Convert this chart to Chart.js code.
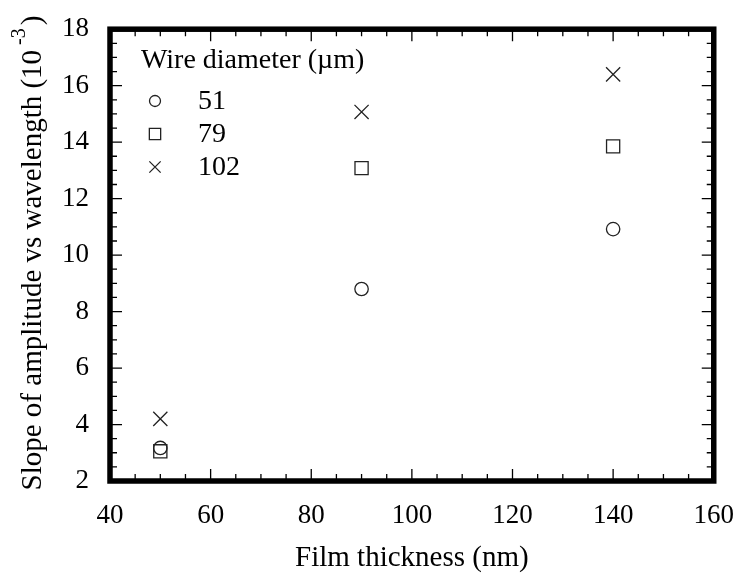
<!DOCTYPE html>
<html>
<head>
<meta charset="utf-8">
<script src="https://cdn.jsdelivr.net/npm/chart.js@4"></script>
<style>
  html, body { margin: 0; padding: 0; background: #fff; }
  #wrap { width: 745px; height: 576px; }
</style>
</head>
<body>
<div id="wrap"><canvas id="c" width="745" height="576"></canvas></div>
<script>
// Film thickness (nm) and slope values (10^-3) per wire diameter
const thickness = [50, 90, 140];
const slope51 = [3.17, 8.8, 10.92];
const slope79 = [3.05, 13.08, 13.85];
const slope102 = [4.2, 15.07, 16.4];
const seriesLabels = ['51', '79', '102'];
const xTicks = [40, 60, 80, 100, 120, 140, 160];
const yTicks = [2, 4, 6, 8, 10, 12, 14, 16, 18];

const FONT = '"Liberation Serif", "Times New Roman", serif';
const INK = '#000';
const MARK = '#222';

function pts(ys) { return thickness.map((x, i) => ({ x: x, y: ys[i] })); }

const styles = [
  { pointStyle: 'circle', radius: 6.7, legendRadius: 5.5 },
  { pointStyle: 'rect', radius: 9.3, legendRadius: 8 },
  { pointStyle: 'crossRot', radius: 10, legendRadius: 8 }
];
const seriesValues = [slope51, slope79, slope102];

const datasets = seriesValues.map((v, i) => ({
  label: seriesLabels[i],
  data: pts(v),
  showLine: false,
  pointStyle: styles[i].pointStyle,
  pointRadius: styles[i].radius,
  pointHoverRadius: styles[i].radius,
  pointBorderWidth: 1.3,
  pointBorderColor: MARK,
  pointBackgroundColor: 'rgba(0,0,0,0)'
}));

// Frame, inward ticks, axis titles and legend box
const framePlugin = {
  id: 'frame',
  afterDatasetsDraw(chart) {
    const { ctx, chartArea: a, scales } = chart;
    const xs = scales.x, ys = scales.y;
    ctx.save();
    ctx.strokeStyle = INK;
    ctx.lineWidth = 1.3;
    ctx.beginPath();
    for (let v = 40; v <= 160; v += 5) {
      const px = xs.getPixelForValue(v);
      const len = (v % 20 === 0) ? 12 : 7;
      ctx.moveTo(px, a.bottom); ctx.lineTo(px, a.bottom - len);
      ctx.moveTo(px, a.top); ctx.lineTo(px, a.top + len);
    }
    for (let v = 2; v <= 18.001; v += 0.5) {
      const py = ys.getPixelForValue(v);
      const len = (Math.abs(v % 2) < 1e-6) ? 12 : 7;
      ctx.moveTo(a.left, py); ctx.lineTo(a.left + len, py);
      ctx.moveTo(a.right, py); ctx.lineTo(a.right - len, py);
    }
    ctx.stroke();
    ctx.lineWidth = 5.5;
    ctx.strokeRect(a.left, a.top, a.right - a.left, a.bottom - a.top);

    // x title
    ctx.fillStyle = INK;
    ctx.font = '29px ' + FONT;
    ctx.textAlign = 'center';
    ctx.textBaseline = 'alphabetic';
    ctx.fillText('Film thickness (nm)', (a.left + a.right) / 2, 566);

    // y title with superscript exponent
    const main = 'Slope of amplitude vs wavelength (10';
    const sup = '-3';
    const tail = ')';
    ctx.translate(41, 253);
    ctx.rotate(-Math.PI / 2);
    ctx.font = '29px ' + FONT;
    const wMain = ctx.measureText(main).width;
    const wTail = ctx.measureText(tail).width;
    ctx.font = '20px ' + FONT;
    const wSup = ctx.measureText(sup).width;
    const gap = 5;
    const x0 = -(wMain + gap + wSup + 3 + wTail) / 2;
    ctx.textAlign = 'left';
    ctx.font = '29px ' + FONT;
    ctx.fillText(main, x0, 0);
    ctx.font = '20px ' + FONT;
    ctx.fillText(sup, x0 + wMain + gap, -16);
    ctx.font = '29px ' + FONT;
    ctx.fillText(tail, x0 + wMain + gap + wSup + 3, 0);
    ctx.restore();

    // legend
    ctx.save();
    ctx.fillStyle = INK;
    ctx.font = '28px ' + FONT;
    ctx.textAlign = 'left';
    ctx.textBaseline = 'middle';
    ctx.fillText('Wire diameter (\u00b5m)', 141, 61);
    const rows = [101, 134, 167];
    chart.data.datasets.forEach((ds, i) => {
      ctx.save();
      ctx.fillStyle = 'rgba(0,0,0,0)';
      ctx.strokeStyle = MARK;
      ctx.lineWidth = 1.3;
      Chart.helpers.drawPoint(ctx, {
        pointStyle: ds.pointStyle,
        radius: styles[i].legendRadius,
        borderWidth: 1.3,
        rotation: 0
      }, 155, rows[i]);
      ctx.restore();
      ctx.font = '28px ' + FONT;
      ctx.fillText(ds.label, 198, rows[i] + 1);
    });
    ctx.restore();
  }
};

new Chart(document.getElementById('c'), {
  type: 'scatter',
  data: { datasets: datasets },
  options: {
    responsive: false,
    animation: false,
    devicePixelRatio: 1,
    layout: { padding: { left: 0, right: 23, top: 21, bottom: 0 } },
    plugins: { legend: { display: false }, tooltip: { enabled: false } },
    scales: {
      x: {
        type: 'linear', min: 40, max: 160,
        afterBuildTicks: s => { s.ticks = xTicks.map(v => ({ value: v })); },
        afterFit: s => { s.height = 95; },
        grid: { display: false },
        border: { display: false },
        ticks: { color: INK, font: { family: FONT, size: 27 }, padding: 11, maxRotation: 0 }
      },
      y: {
        type: 'linear', min: 2, max: 18,
        afterBuildTicks: s => { s.ticks = yTicks.map(v => ({ value: v })); },
        afterFit: s => { s.width = 110; },
        grid: { display: false },
        border: { display: false },
        ticks: { color: INK, font: { family: FONT, size: 27 }, padding: 13 }
      }
    }
  },
  plugins: [framePlugin]
});
</script>
</body>
</html>
